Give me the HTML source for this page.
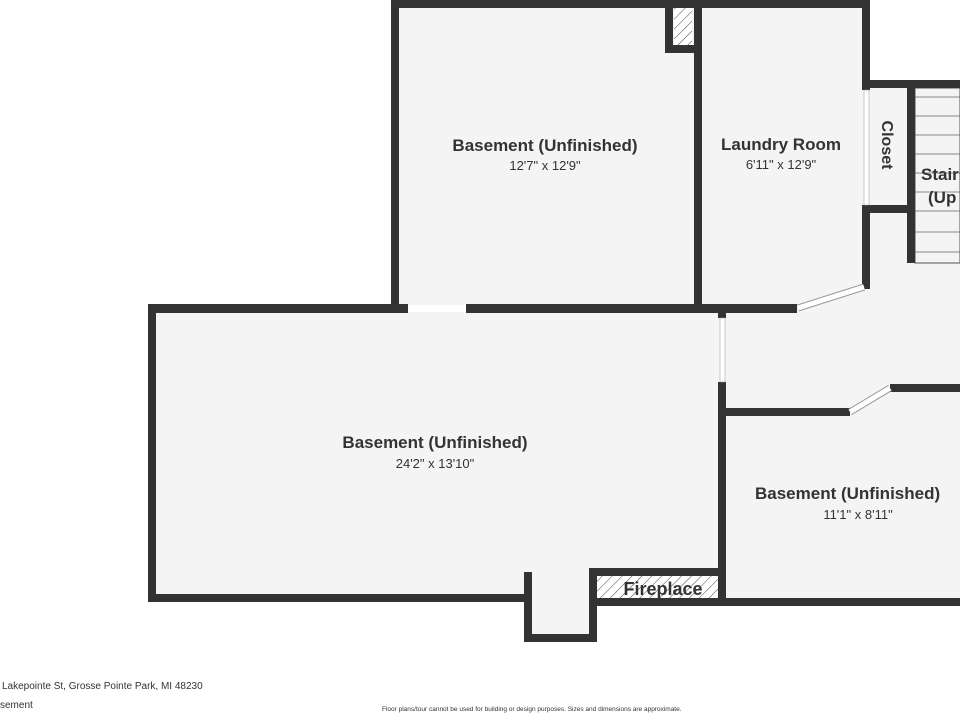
<!DOCTYPE html>
<html><head><style>
html,body{margin:0;padding:0;background:#fff;}
svg{display:block}
text{font-family:"Liberation Sans",sans-serif;fill:#333}
</style></head><body>
<svg width="960" height="720" viewBox="0 0 960 720" xmlns="http://www.w3.org/2000/svg">
<defs>
<pattern id="h" width="7" height="7" patternUnits="userSpaceOnUse" patternTransform="rotate(45)">
<rect width="7" height="7" fill="#fff"/><line x1="0" y1="0" x2="0" y2="7" stroke="#444" stroke-width="1"/>
</pattern>
</defs>
<!-- floors -->
<g fill="#f4f4f4">
<rect x="395" y="4" width="471" height="304"/>
<rect x="866" y="84" width="94" height="130"/>
<polygon points="152,308 866,308 866,210 960,210 960,604 722,604 722,600 593,600 593,638 528,638 528,598 152,598"/>
</g>
<!-- stairs -->
<g stroke="#888" stroke-width="1">
<line x1="915" y1="97" x2="960" y2="97"/><line x1="915" y1="116" x2="960" y2="116"/>
<line x1="915" y1="135" x2="960" y2="135"/><line x1="915" y1="154" x2="960" y2="154"/>
<line x1="915" y1="173" x2="960" y2="173"/><line x1="915" y1="192" x2="960" y2="192"/>
<line x1="915" y1="211" x2="960" y2="211"/><line x1="915" y1="232" x2="960" y2="232"/>
<line x1="915" y1="252" x2="960" y2="252"/>
</g>
<rect x="915" y="88" width="45" height="175" fill="none" stroke="#555" stroke-width="1"/>
<g fill="#333">
<rect x="391" y="0" width="479" height="8"/>
<rect x="391" y="0" width="8" height="312"/>
<rect x="694" y="0" width="8" height="312"/>
<rect x="665" y="0" width="8" height="53"/>
<rect x="665" y="45" width="35" height="8"/>
<rect x="862" y="0" width="8" height="90"/>
<rect x="862" y="80" width="98" height="8"/>
<rect x="862" y="205" width="50" height="8"/>
<rect x="907" y="80" width="8" height="183"/>
<rect x="862" y="205" width="8" height="84"/>
<rect x="148" y="304" width="260" height="9"/>
<rect x="466" y="304" width="331" height="9"/>
<rect x="148" y="304" width="8" height="298"/>
<rect x="148" y="594" width="384" height="8"/>
<rect x="524" y="572" width="8" height="70"/>
<rect x="524" y="634" width="73" height="8"/>
<rect x="589" y="568" width="8" height="74"/>
<rect x="589" y="568" width="137" height="8"/>
<rect x="589" y="598" width="371" height="8"/>
<rect x="718" y="312" width="8" height="6"/>
<rect x="718" y="382" width="8" height="224"/>
<rect x="722" y="408" width="128" height="8"/>
<rect x="890" y="384" width="70" height="8"/>
</g>
<rect x="674" y="8" width="18" height="37" fill="url(#h)"/>
<rect x="597" y="576" width="121" height="22" fill="url(#h)"/>
<rect x="408" y="305" width="58" height="7" fill="#fff"/>
<rect x="720" y="318" width="5" height="64" fill="#fff" stroke="#999" stroke-width="0.5"/>
<rect x="864" y="90" width="5" height="115" fill="#fff" stroke="#999" stroke-width="0.5"/>
<line x1="798" y1="308" x2="864" y2="287" stroke="#999" stroke-width="7"/>
<line x1="798" y1="308" x2="864" y2="287" stroke="#fff" stroke-width="5"/>
<line x1="850" y1="412" x2="890" y2="388" stroke="#999" stroke-width="7"/>
<line x1="850" y1="412" x2="890" y2="388" stroke="#fff" stroke-width="5"/>
<text x="545" y="151" font-size="17" font-weight="bold" text-anchor="middle">Basement (Unfinished)</text>
<text x="545" y="170" font-size="13" text-anchor="middle">12'7" x 12'9"</text>
<text x="781" y="150" font-size="17" font-weight="bold" text-anchor="middle">Laundry Room</text>
<text x="781" y="169" font-size="13" text-anchor="middle">6'11" x 12'9"</text>
<text x="882" y="145" font-size="16" font-weight="bold" text-anchor="middle" transform="rotate(90 882 145)">Closet</text>
<text x="921" y="180" font-size="17" font-weight="bold">Stair</text>
<text x="928" y="203" font-size="17" font-weight="bold">(Up</text>
<text x="435" y="448" font-size="17" font-weight="bold" text-anchor="middle">Basement (Unfinished)</text>
<text x="435" y="468" font-size="13" text-anchor="middle">24'2" x 13'10"</text>
<text x="755" y="499" font-size="17" font-weight="bold">Basement (Unfinished)</text>
<text x="858" y="519" font-size="13" text-anchor="middle">11'1" x 8'11"</text>
<text x="663" y="595" font-size="18" font-weight="bold" text-anchor="middle">Fireplace</text>
<text x="2" y="689" font-size="10">Lakepointe St, Grosse Pointe Park, MI 48230</text>
<text x="0" y="708" font-size="10">sement</text>
<text x="382" y="711" font-size="6.5">Floor plans/tour cannot be used for building or design purposes. Sizes and dimensions are approximate.</text>
</svg>
</body></html>
